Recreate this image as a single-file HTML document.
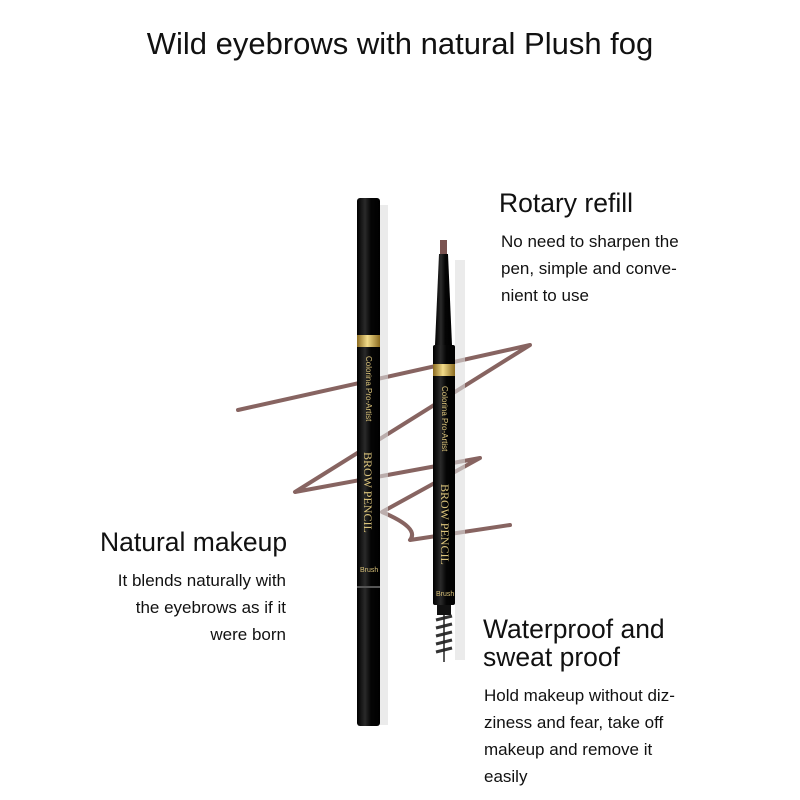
<!DOCTYPE html>
<html><head><meta charset="utf-8"><style>
body{margin:0;width:800px;height:800px;background:#fff;position:relative;font-family:"Liberation Sans",sans-serif;color:#111;overflow:hidden}
.t{position:absolute;white-space:nowrap}
.h{font-size:26.5px}
.p{font-size:17px;line-height:27px}
</style></head><body>
<div class="t" style="left:0;width:800px;text-align:center;top:26px;font-size:31px">Wild eyebrows with natural Plush fog</div>

<svg width="800" height="800" style="position:absolute;left:0;top:0">
<defs>
<linearGradient id="bk" x1="0" x2="1"><stop offset="0" stop-color="#000"/><stop offset=".35" stop-color="#2a2a2a"/><stop offset=".6" stop-color="#050505"/><stop offset="1" stop-color="#000"/></linearGradient>
<linearGradient id="gd" x1="0" x2="1"><stop offset="0" stop-color="#8a6a20"/><stop offset=".45" stop-color="#f3dc8a"/><stop offset="1" stop-color="#8a6a20"/></linearGradient>
</defs>
<path d="M238,410 L530,345 L295,492 L480,458 L382,512 Q420,528 410,540 L510,525" fill="none" stroke="#7a5350" stroke-width="4" stroke-linejoin="round" stroke-linecap="round" opacity=".9"/>
<rect x="378" y="205" width="10" height="520" fill="#ddd" opacity=".6"/>
<rect x="455" y="260" width="10" height="400" fill="#ddd" opacity=".6"/>
<rect x="357" y="198" width="23" height="528" rx="3" fill="url(#bk)"/>
<rect x="357" y="335" width="23" height="12" fill="url(#gd)"/>
<rect x="357" y="586" width="23" height="2" fill="#555"/>
<rect x="440" y="240" width="7" height="14" fill="#7a5350"/>
<path d="M439,254 L448,254 L452,345 L435,345 Z" fill="url(#bk)"/>
<rect x="433" y="345" width="22" height="260" rx="2" fill="url(#bk)"/>
<rect x="433" y="364" width="22" height="12" fill="url(#gd)"/>
<rect x="437" y="605" width="14" height="10" fill="#111"/>
<g stroke="#333" stroke-width="3">
<line x1="436" y1="620" x2="452" y2="616"/><line x1="436" y1="628" x2="452" y2="624"/><line x1="436" y1="636" x2="452" y2="632"/><line x1="436" y1="644" x2="452" y2="640"/><line x1="436" y1="652" x2="452" y2="648"/>
</g>
<line x1="444" y1="615" x2="444" y2="662" stroke="#222" stroke-width="1.5"/>
<g fill="#d9c27a" font-family="Liberation Sans" font-size="8">
<text transform="translate(366,356) rotate(90)">Colorina Pro-Artist</text>
<text transform="translate(442,386) rotate(90)">Colorina Pro-Artist</text>
<text transform="translate(364,452) rotate(90)" font-size="12" font-family="Liberation Serif">BROW PENCIL</text>
<text transform="translate(441,484) rotate(90)" font-size="12" font-family="Liberation Serif">BROW PENCIL</text>
<text x="360" y="572" font-size="7">Brush</text>
<text x="436" y="596" font-size="7">Brush</text>
</g>
</svg>

<div class="t h" style="left:499px;top:188px">Rotary refill</div>
<div class="t p" style="left:501px;top:228px">No need to sharpen the<br>pen, simple and conve-<br>nient to use</div>

<div class="t h" style="left:100px;top:527px">Natural makeup</div>
<div class="t p" style="right:514px;top:567px;text-align:right">It blends naturally with<br>the eyebrows as if it<br>were born</div>

<div class="t h" style="left:483px;top:615px;line-height:28px">Waterproof and<br>sweat proof</div>
<div class="t p" style="left:484px;top:682px">Hold makeup without diz-<br>ziness and fear, take off<br>makeup and remove it<br>easily</div>
</body></html>
